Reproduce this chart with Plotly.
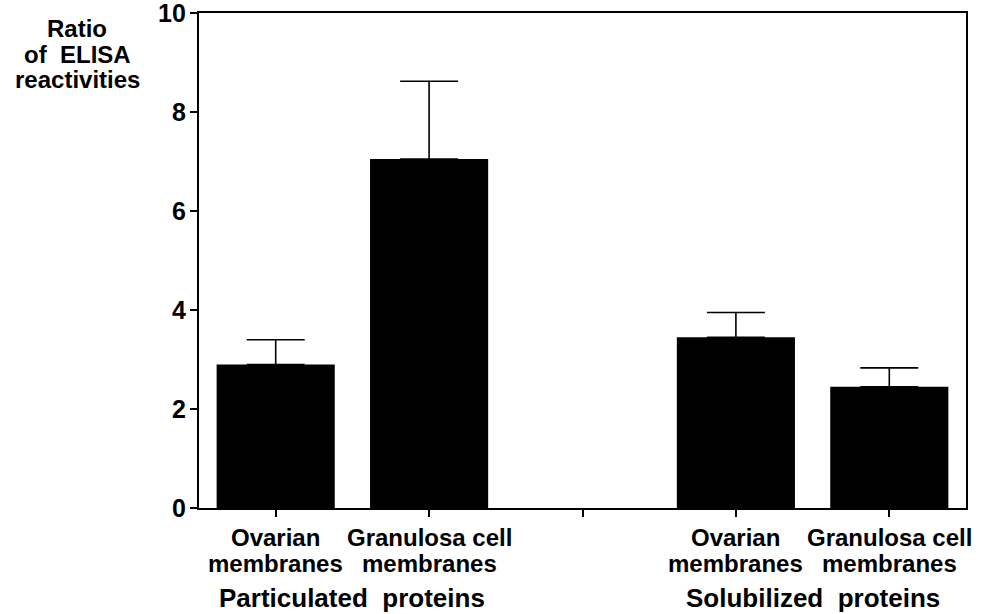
import plotly.graph_objects as go

# Ratio of ELISA reactivities by membrane fraction
groups = ["Particulated\u00a0 proteins", "Solubilized\u00a0 proteins"]
fraction_lines = [("Ovarian", "membranes"), ("Granulosa cell", "membranes")]
ratio_particulated = [2.9, 7.05]
err_particulated = [0.5, 1.57]
ratio_solubilized = [3.45, 2.45]
err_solubilized = [0.5, 0.38]
y_ticks = [0, 2, 4, 6, 8, 10]
y_title_lines = ["Ratio", "of\u00a0 ELISA", "reactivities"]
spacer = " "

fraction_names = [" ".join(f) for f in fraction_lines]
cats_p = [f"P|{f}" for f in fraction_names]
cats_s = [f"S|{f}" for f in fraction_names]
category_order = cats_p + [spacer] + cats_s

font_family = "Liberation Sans, Arial, sans-serif"

fig = go.Figure()
fig.add_trace(go.Bar(
    x=cats_p + cats_s,
    y=ratio_particulated + ratio_solubilized,
    width=0.77,
    marker=dict(color="black", line=dict(width=0)),
    error_y=dict(type="data", symmetric=False,
                 array=err_particulated + err_solubilized,
                 arrayminus=[0] * 4,
                 color="black", thickness=1.6, width=29),
    showlegend=False,
))

fig.update_layout(
    width=988, height=614,
    margin=dict(l=199, r=22, t=13, b=106, autoexpand=False),
    paper_bgcolor="white", plot_bgcolor="white",
    font=dict(family=font_family, color="black", weight="bold"),
)

fig.update_xaxes(
    type="category", categoryorder="array", categoryarray=category_order,
    tickmode="array", tickvals=category_order, showticklabels=False,
    range=[-0.5, 4.5],
    showline=True, linecolor="black", linewidth=2, mirror=True,
    ticks="outside", ticklen=7, tickwidth=1.5, tickcolor="black",
    showgrid=False, zeroline=False,
)
fig.update_yaxes(
    range=[0, 10], tickmode="array", tickvals=y_ticks, showticklabels=False,
    showline=True, linecolor="black", linewidth=2, mirror=True,
    ticks="outside", ticklen=7, tickwidth=1.5, tickcolor="black",
    showgrid=False, zeroline=False,
)

# Y tick labels, placed on the y scale at each tick value
for v in y_ticks:
    fig.add_annotation(
        x=0, xref="paper", xanchor="right", xshift=-11,
        y=v, yref="y", yanchor="middle",
        showarrow=False, text=str(v),
        font=dict(size=25, family=font_family, weight="bold"),
    )

# Two-line category labels under each bar
for cats in (cats_p, cats_s):
    for cat, (line1, line2) in zip(cats, fraction_lines):
        for text, offset in ((line1, -29), (line2, -55)):
            fig.add_annotation(
                x=cat, xref="x", y=0, yref="paper", yshift=offset,
                yanchor="middle", showarrow=False, text=text,
                font=dict(size=24, family=font_family, weight="bold"),
            )

# Group labels under each pair of bars
for i, g in enumerate(groups):
    fig.add_annotation(
        x=0.5 + 3 * i, xref="x", y=0, yref="paper",
        yshift=-90, yanchor="middle", showarrow=False, borderpad=0,
        text=g, font=dict(size=26, family=font_family, weight="bold"),
    )

# Y-axis title, stacked at the top left
for text, offset in zip(y_title_lines, (-15, -41, -66)):
    fig.add_annotation(
        x=0, xref="paper", xshift=-122, xanchor="center",
        y=1, yref="paper", yanchor="middle", yshift=offset,
        showarrow=False, text=text,
        font=dict(size=24, family=font_family, weight="bold"),
    )

fig.write_html("out.html")
